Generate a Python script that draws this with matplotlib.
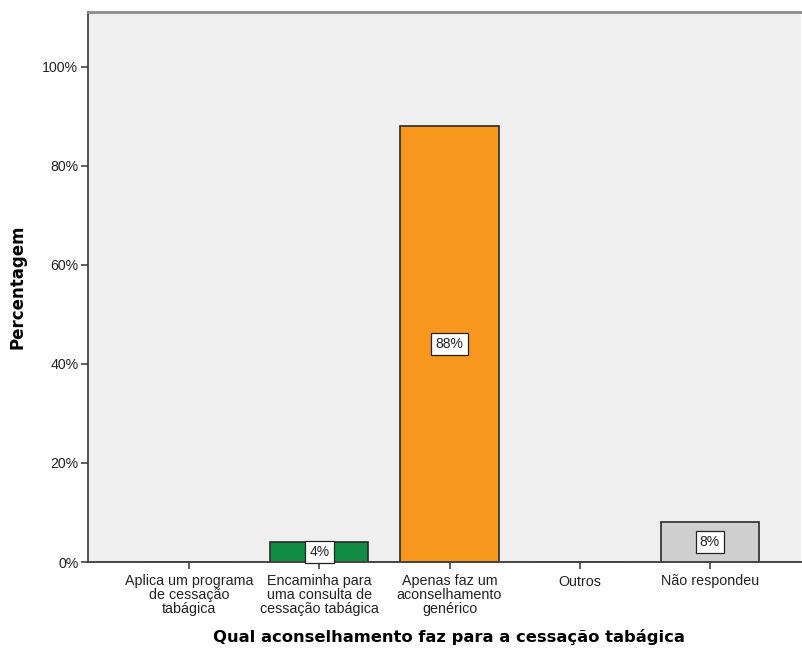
import matplotlib
matplotlib.use("Agg")
import matplotlib.pyplot as plt
from matplotlib.ticker import FuncFormatter

categories = [
    "Aplica um programa\nde cessação\ntabágica",
    "Encaminha para\numa consulta de\ncessação tabágica",
    "Apenas faz um\naconselhamento\ngenérico",
    "Outros",
    "Não respondeu",
]
percentages = [0, 4, 88, 0, 8]
bar_colors = ["#1b7f3c", "#128c44", "#f7971d", "#9e9e9e", "#cfcfcf"]
y_ticks = [0, 20, 40, 60, 80, 100]

W, H = 802, 653
fig = plt.figure(figsize=(W / 100, H / 100), dpi=100)
ax = fig.add_axes([88 / W, 1 - 562 / H, (801 - 88) / W, (562 - 12) / H])
ax.set_facecolor("#efefef")

x = list(range(len(categories)))
ax.bar(x, percentages, width=0.754, color=bar_colors, edgecolor="#2a2a2a",
       linewidth=1.2, zorder=2)

for xi, v in zip(x, percentages):
    if v > 0:
        ax.text(xi, v / 2, f"{v:.0f}%", ha="center", va="center", fontsize=10,
                family="Liberation Sans", color="#222222", zorder=3,
                bbox=dict(boxstyle="square,pad=0.3", facecolor="white",
                          edgecolor="#222222", linewidth=0.9))

ax.set_xlim(-0.777, 4.70)
ax.set_ylim(0, 111)
ax.set_yticks(y_ticks)
ax.yaxis.set_major_formatter(FuncFormatter(lambda v, p: f"{v:.0f}%"))
ax.set_xticks(x)
ax.set_xticklabels(categories, family="Liberation Sans", fontsize=10.3,
                   linespacing=0.98, color="#222222")
for lbl in ax.get_yticklabels():
    lbl.set_family("Liberation Sans")
    lbl.set_fontsize(10.2)
    lbl.set_color("#222222")

ax.tick_params(axis="both", direction="out", length=5, width=1.1,
               color="#333333", pad=2)
ax.tick_params(axis="x", pad=4)

ax.spines["right"].set_visible(False)
ax.spines["top"].set_color("#8a8a8a")
ax.spines["top"].set_linewidth(2)
ax.spines["left"].set_color("#333333")
ax.spines["left"].set_linewidth(1.2)
ax.spines["bottom"].set_color("#444444")
ax.spines["bottom"].set_linewidth(1.4)

ax.set_xlabel("Qual aconselhamento faz para a cessação tabágica",
              fontsize=11.8, fontweight="bold", family="DejaVu Sans")
ax.xaxis.set_label_coords((449 - 88) / 713, -(637 - 562) / 550)
ax.xaxis.label.set_verticalalignment("center")
ax.set_ylabel("Percentagem", fontsize=12, fontweight="bold",
              family="DejaVu Sans")
ax.yaxis.set_label_coords(-(88 - 18) / 713, (562 - 287) / 550)
ax.yaxis.label.set_verticalalignment("center")

fig.savefig("out.png", dpi=100)
